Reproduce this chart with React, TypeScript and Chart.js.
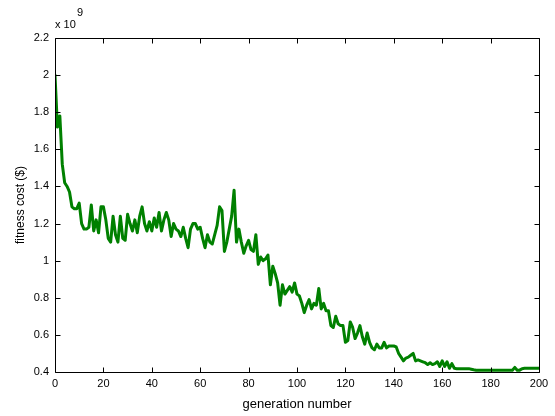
import React, { useEffect, useRef } from "react";
import { Chart, registerables } from "chart.js";

Chart.register(...registerables);

// fitness cost per generation, in units of 1e9 $
const fitness: number[] = [
  2.0, 1.72, 1.78, 1.52, 1.42, 1.4, 1.37, 1.29, 1.28, 1.28,
  1.31, 1.2, 1.17, 1.17, 1.18, 1.3, 1.16, 1.22, 1.15, 1.29,
  1.29, 1.22, 1.12, 1.1, 1.24, 1.14, 1.1, 1.24, 1.12, 1.11,
  1.25, 1.2, 1.16, 1.22, 1.15, 1.24, 1.29, 1.2, 1.16, 1.21,
  1.16, 1.23, 1.18, 1.26, 1.16, 1.22, 1.26, 1.22, 1.13, 1.2,
  1.17, 1.16, 1.13, 1.18, 1.12, 1.07, 1.17, 1.2, 1.2, 1.17,
  1.18, 1.12, 1.07, 1.14, 1.1, 1.09, 1.14, 1.19, 1.29, 1.27,
  1.05, 1.1, 1.17, 1.24, 1.38, 1.1, 1.17, 1.1, 1.04, 1.08,
  1.11, 1.06, 1.05, 1.14, 0.98, 1.02, 1.0, 1.01, 1.03, 0.87,
  0.97, 0.93, 0.88, 0.76, 0.87, 0.82, 0.84, 0.86, 0.83, 0.88,
  0.82, 0.81, 0.77, 0.72, 0.76, 0.79, 0.74, 0.77, 0.76, 0.85,
  0.74, 0.77, 0.73, 0.73, 0.65, 0.64, 0.7, 0.66, 0.65, 0.65,
  0.56, 0.57, 0.67, 0.64, 0.58, 0.61, 0.65, 0.59, 0.55, 0.61,
  0.56, 0.53, 0.52, 0.55, 0.53, 0.53, 0.56, 0.53, 0.54, 0.54,
  0.54, 0.535, 0.5, 0.48, 0.46, 0.475, 0.48, 0.49, 0.5, 0.46,
  0.465, 0.46, 0.455, 0.45, 0.44, 0.45, 0.44, 0.445, 0.455, 0.43,
  0.46, 0.43, 0.455, 0.42, 0.445, 0.42, 0.418, 0.418, 0.418, 0.418,
  0.418, 0.418, 0.415, 0.412, 0.41, 0.41, 0.41, 0.41, 0.41, 0.41,
  0.41, 0.41, 0.41, 0.41, 0.41, 0.41, 0.41, 0.41, 0.41, 0.41,
  0.425, 0.41, 0.41, 0.418, 0.42, 0.42, 0.42, 0.42, 0.42, 0.42,
  0.42,
];
const generations: number[] = fitness.map((_, i) => i);

const xTicks: number[] = [0, 20, 40, 60, 80, 100, 120, 140, 160, 180, 200];
const yTicks: number[] = [0.4, 0.6, 0.8, 1.0, 1.2, 1.4, 1.6, 1.8, 2.0, 2.2];
const xTitle = "generation number";
const yTitle = "fitness cost ($)";
const expBase = "x 10";
const expPower = "9";

const FONT = "'Liberation Sans', Arial, sans-serif";

const boxPlugin = {
  id: "matlabBox",
  afterDraw(chart: any) {
    const { ctx, chartArea: a, scales } = chart;
    ctx.save();
    ctx.strokeStyle = "#000";
    ctx.lineWidth = 1;
    const L = Math.round(a.left) + 0.5;
    const R = Math.round(a.right) + 0.5;
    const T = Math.round(a.top) + 0.5;
    const B = Math.round(a.bottom) + 0.5;
    ctx.beginPath();
    ctx.rect(L, T, R - L, B - T);
    const tl = 5;
    for (const v of xTicks) {
      const px = Math.round(scales.x.getPixelForValue(v)) + 0.5;
      ctx.moveTo(px, B);
      ctx.lineTo(px, B - tl);
      ctx.moveTo(px, T);
      ctx.lineTo(px, T + tl);
    }
    for (const v of yTicks) {
      const py = Math.round(scales.y.getPixelForValue(v)) + 0.5;
      ctx.moveTo(L, py);
      ctx.lineTo(L + tl, py);
      ctx.moveTo(R, py);
      ctx.lineTo(R - tl, py);
    }
    ctx.stroke();
    ctx.fillStyle = "#000";
    ctx.textAlign = "left";
    ctx.textBaseline = "alphabetic";
    ctx.font = `11px ${FONT}`;
    ctx.fillText(expBase, a.left, 28);
    ctx.fillText(expPower, a.left + 22, 16);
    ctx.restore();
  },
};

export default function App() {
  const ref = useRef<HTMLCanvasElement | null>(null);
  useEffect(() => {
    if (!ref.current) return;
    const chart = new Chart(ref.current, {
      type: "line",
      data: {
        datasets: [
          {
            data: generations.map((g, i) => ({ x: g, y: fitness[i] })),
            borderColor: "#008000",
            borderWidth: 3,
            pointRadius: 0,
            tension: 0,
            fill: false,
            borderJoinStyle: "round",
            borderCapStyle: "round",
          },
        ],
      },
      options: {
        responsive: false,
        animation: false,
        layout: { padding: { top: 38, right: 16, bottom: 0, left: 0 } },
        plugins: { legend: { display: false }, tooltip: { enabled: false } },
        scales: {
          x: {
            type: "linear",
            min: 0,
            max: 200,
            afterBuildTicks: (s: any) => {
              s.ticks = xTicks.map((v) => ({ value: v }));
            },
            afterFit: (s: any) => {
              s.height = 44;
            },
            grid: { display: false, drawTicks: false },
            border: { display: false },
            ticks: {
              color: "#000",
              font: { family: FONT, size: 11 },
              padding: 5,
              maxRotation: 0,
              autoSkip: false,
              callback: (v: any) => String(v),
            },
            title: {
              display: true,
              text: xTitle,
              color: "#000",
              font: { family: FONT, size: 13 },
              padding: { top: 0, bottom: 4 },
            },
          },
          y: {
            type: "linear",
            min: 0.4,
            max: 2.2,
            afterBuildTicks: (s: any) => {
              s.ticks = yTicks.map((v) => ({ value: v }));
            },
            afterFit: (s: any) => {
              s.width = 55;
            },
            grid: { display: false, drawTicks: false },
            border: { display: false },
            ticks: {
              color: "#000",
              font: { family: FONT, size: 11 },
              padding: 6,
              autoSkip: false,
              callback: (v: any) => String(Number(Number(v).toFixed(1))),
            },
            title: {
              display: true,
              text: yTitle,
              color: "#000",
              font: { family: FONT, size: 12 },
              padding: { top: 13, bottom: 0 },
            },
          },
        },
      },
      plugins: [boxPlugin],
    } as any);
    return () => chart.destroy();
  }, []);
  return (
    <div style={{ position: "fixed", left: 0, top: 0, width: 555, height: 416, background: "#fff" }}>
      <canvas ref={ref} width={555} height={416} style={{ display: "block" }} />
    </div>
  );
}
